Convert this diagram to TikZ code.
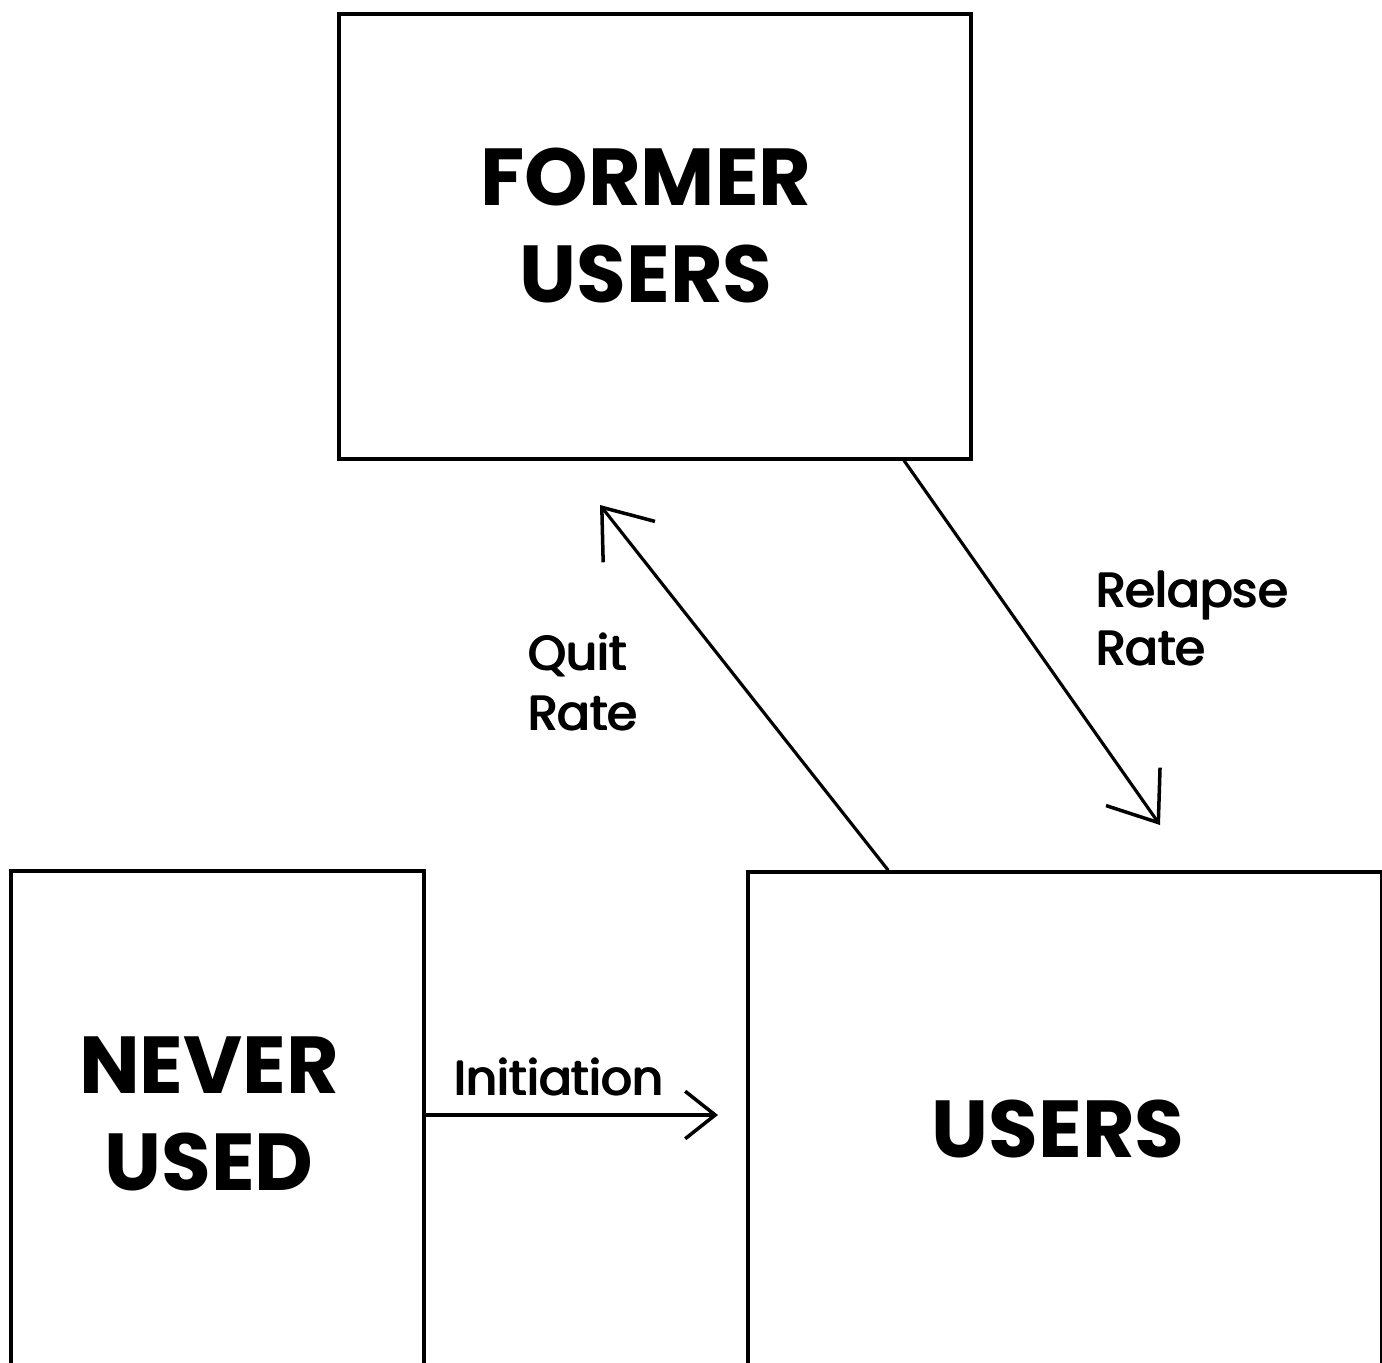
\documentclass[tikz,border=0pt]{standalone}
\usepackage{fontspec}
\newfontfamily\headfont{Poppins}
\newfontfamily\labelfont{Poppins}
\usetikzlibrary{arrows.meta,calc}
% heavier strokes for flow labels: the same text set three times, slightly offset
\newcommand\heavytext[1]{\leavevmode\rlap{#1}\rlap{\raisebox{0.55pt}{\hspace{0.55pt}#1}}\hspace{1.1pt}#1}
\tikzset{
  stock/.style={draw, line width=2pt, rectangle, inner sep=0pt},
  big/.style={font=\headfont\bfseries\fontsize{46}{50}\selectfont, inner sep=0pt, anchor=base},
  small/.style={font=\labelfont\fontsize{27.5}{32}\selectfont, inner sep=0pt},
  flow/.style={line width=1.8pt, line cap=round, line join=round},
  bigtip/.style={-{Straight Barb[length=0.88cm, width=1.32cm, line width=2pt]}},
  smalltip/.style={-{Straight Barb[length=0.6cm, width=0.95cm, line width=2pt]}}
}
\begin{document}
\begin{tikzpicture}[x=0.02cm, y=-0.02cm]
  \useasboundingbox (0,0) rectangle (1382,1362);
  \clip (0,0) rectangle (1382,1362);
  \fill[white] (0,0) rectangle (1382,1362);

  % stocks
  \node[stock, minimum width=632*0.02cm, minimum height=445*0.02cm, anchor=north west] (former) at (337,12) {};
  \node[stock, minimum width=413*0.02cm, minimum height=560*0.02cm, anchor=north west] (never) at (9,869) {};
  \node[stock, minimum width=634*0.02cm, minimum height=560*0.02cm, anchor=north west] (users) at (746,870) {};

  % stock labels
  \node[big] (t1) at (646,205) {FORMER};
  \node[big] (t2) at (646,302) {USERS};
  \node[big] (t3) at (209,1093) {NEVER};
  \node[big] (t4) at (209,1190) {USED};
  \node[big] (t5) at (1058,1157) {USERS};

  % flows
  \coordinate (quitstart) at ($(users.north west)+(142,0)$);
  \coordinate (quittip) at (600,505);
  \coordinate (relstart) at ($(former.south west)+(567,0)$);
  \coordinate (reltip) at (1160,825);
  \coordinate (inittip) at (718,1115);
  \coordinate (initstart) at (never.east |- inittip);

  \draw[flow, bigtip] (quitstart) -- (quittip);
  \draw[flow, bigtip] (relstart) -- (reltip);
  \draw[flow, smalltip] (initstart) -- (inittip);

  % flow labels
  \node[small, anchor=base west] (q1) at (527,670) {\heavytext{Quit}};
  \node[small, anchor=base west] (q2) at (527,730) {\heavytext{Rate}};
  \node[small, anchor=base west] (r1) at (1095,607) {\heavytext{Relapse}};
  \node[small, anchor=base west] (r2) at (1095,665) {\heavytext{Rate}};
  \node[small, anchor=base] (i1) at (559,1095) {\heavytext{Initiation}};
\end{tikzpicture}
\end{document}
